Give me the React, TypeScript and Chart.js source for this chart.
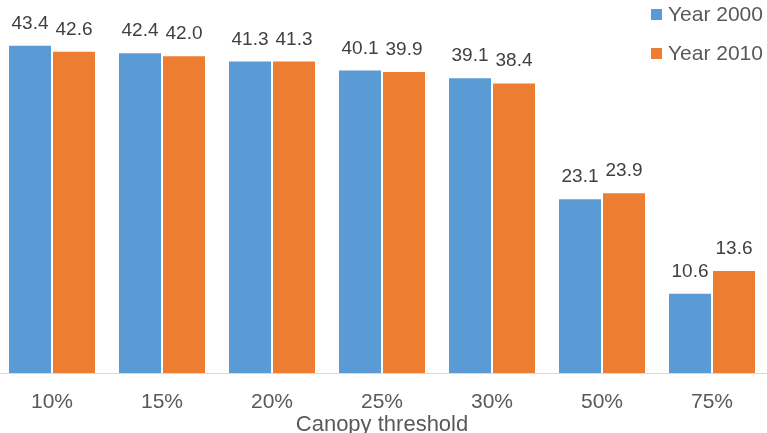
import React, { useEffect, useRef } from "react";
import { Chart, registerables } from "chart.js";

Chart.register(...registerables);

const categories = ["10%", "15%", "20%", "25%", "30%", "50%", "75%"];
const year2000 = [43.4, 42.4, 41.3, 40.1, 39.1, 23.1, 10.6];
const year2010 = [42.6, 42.0, 41.3, 39.9, 38.4, 23.9, 13.6];
const seriesLabels = ["Year 2000", "Year 2010"];
const seriesColors = ["#5B9BD5", "#ED7D31"];
const axisTitle = "Canopy threshold";

const FONT = "'Liberation Sans', Arial, sans-serif";

const dataLabelPlugin = {
  id: "dataLabels",
  afterDatasetsDraw(chart: any) {
    const ctx = chart.ctx;
    ctx.save();
    ctx.font = `19px ${FONT}`;
    ctx.fillStyle = "#404040";
    ctx.textAlign = "center";
    ctx.textBaseline = "alphabetic";
    chart.data.datasets.forEach((ds: any, i: number) => {
      const meta = chart.getDatasetMeta(i);
      meta.data.forEach((el: any, j: number) => {
        ctx.fillText(Number(ds.data[j]).toFixed(1), el.x, el.y - 16);
      });
    });
    ctx.restore();
  },
};

const legendPlugin = {
  id: "customLegend",
  afterDraw(chart: any) {
    const ctx = chart.ctx;
    ctx.save();
    ctx.font = `21px ${FONT}`;
    ctx.textAlign = "left";
    ctx.textBaseline = "alphabetic";
    chart.data.datasets.forEach((ds: any, i: number) => {
      const y = 9 + i * 39;
      ctx.fillStyle = ds.backgroundColor;
      ctx.fillRect(654, y, 11, 11);
      ctx.fillStyle = "#595959";
      ctx.fillText(ds.label, 671, y + 12);
    });
    ctx.restore();
  },
};

export default function App() {
  const ref = useRef<HTMLCanvasElement>(null);
  useEffect(() => {
    if (!ref.current) return;
    const chart = new Chart(ref.current, {
      type: "bar",
      data: {
        labels: categories,
        datasets: [
          {
            label: seriesLabels[0],
            data: year2000,
            backgroundColor: seriesColors[0],
            borderColor: "rgba(255,255,255,0.45)",
            borderWidth: 1,
            categoryPercentage: 0.8,
            barPercentage: 1.0,
          },
          {
            label: seriesLabels[1],
            data: year2010,
            backgroundColor: seriesColors[1],
            borderColor: "rgba(255,255,255,0.45)",
            borderWidth: 1,
            categoryPercentage: 0.8,
            barPercentage: 1.0,
          },
        ],
      },
      options: {
        animation: false,
        responsive: false,
        maintainAspectRatio: false,
        layout: { padding: 0 },
        plugins: {
          legend: { display: false },
          tooltip: { enabled: false },
        },
        scales: {
          x: {
            grid: { display: false, drawTicks: false },
            border: { display: true, color: "#D9D9D9", width: 1 },
            ticks: {
              color: "#595959",
              font: { family: FONT, size: 21, lineHeight: 1 },
              padding: 18.5,
              maxRotation: 0,
            },
            title: {
              display: true,
              text: axisTitle,
              color: "#595959",
              font: { family: FONT, size: 22, lineHeight: 1 },
              padding: { top: -17, bottom: 0 },
            },
          },
          y: {
            display: false,
            min: 0,
            max: 49.3,
          },
        },
      },
      plugins: [dataLabelPlugin, legendPlugin],
    });
    return () => chart.destroy();
  }, []);

  return (
    <div
      style={{
        position: "fixed",
        left: 0,
        top: 0,
        width: 767,
        height: 433,
        overflow: "hidden",
        background: "#fff",
      }}
    >
      <canvas
        ref={ref}
        width={770}
        height={436}
        style={{ position: "absolute", left: -3, top: 0, width: 770, height: 436 }}
      />
    </div>
  );
}
